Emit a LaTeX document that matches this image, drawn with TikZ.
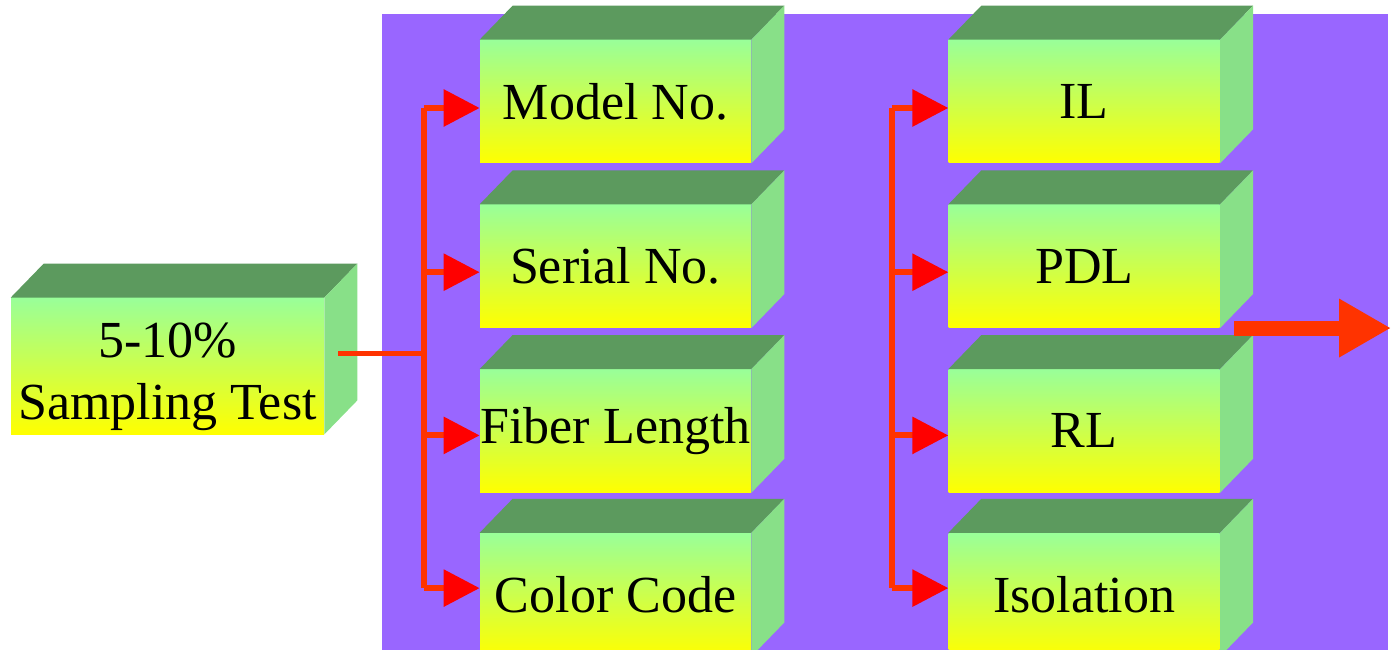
\documentclass[tikz,border=0pt]{standalone}
\usepackage{fontspec}
\setmainfont{Liberation Serif}
\usetikzlibrary{arrows.meta,positioning,calc}
\definecolor{bgpurple}{RGB}{153,102,255}
\definecolor{topgreen}{RGB}{92,154,94}
\definecolor{sidegreen}{RGB}{136,224,136}
\definecolor{frontgreen}{RGB}{153,255,153}
\definecolor{wire}{RGB}{255,51,0}
\tikzstyle{feed}=[wire, line width=0.12cm, -{Triangle[length=0.72cm,width=0.72cm,color=red]}]
\tikzstyle{bus}=[wire, line width=0.12cm]
\tikzset{
    block/.style={top color=frontgreen, bottom color=yellow, inner sep=0pt,
        minimum width=5.42cm, minimum height=2.46cm, align=center,
        font=\fontsize{29.6}{35.3}\selectfont},
    bigblock/.style={block, minimum width=6.26cm, minimum height=2.72cm}
}
% top and side faces of a block
\newcommand{\blockfaces}[1]{%
  \fill[topgreen] (#1.north west) -- ++(0.66,0.68) -- ($(#1.north east)+(0.66,0.68)$) -- (#1.north east) -- cycle;
  \fill[sidegreen] (#1.north east) -- ++(0.66,0.68) -- ($(#1.south east)+(0.66,0.68)$) -- (#1.south east) -- cycle;
}
\begin{document}
\begin{tikzpicture}
  \useasboundingbox (0,0) rectangle (27.84,-13);
  \fill[bgpurple] (7.64,-0.28) rectangle (27.76,-13);

  \node[bigblock] (samp) at (3.35,-7.32)
    {\raisebox{-0.2cm}[\height][\depth]{\begin{tabular}{@{}c@{}}5-10\%\\Sampling Test\end{tabular}}};

  \node[block] (model) at (12.31,-2.03) {Model No.};
  \node[block, below=0.82cm of model] (serial) {Serial No.};
  \node[block, below=0.82cm of serial] (fiber) {Fiber Length};
  \node[block, below=0.80cm of fiber] (color) {Color Code};

  \node[block, right=3.94cm of model] (il) {IL};
  \node[block, below=0.82cm of il] (pdl) {PDL};
  \node[block, below=0.82cm of pdl] (rl) {RL};
  \node[block, below=0.80cm of rl] (iso) {Isolation};

  \blockfaces{samp}
  \blockfaces{model} \blockfaces{serial} \blockfaces{fiber} \blockfaces{color}
  \blockfaces{il} \blockfaces{pdl} \blockfaces{rl} \blockfaces{iso}

  %%%%%%%% connectors %%%%%%%%
  \coordinate (mbus) at (8.47,0);
  \coordinate (rbus) at (17.83,0);
  \coordinate (sout) at ([xshift=0.28cm,yshift=0.26cm]samp.east);
  \coordinate (model_in) at ([yshift=-0.13cm]model.west);
  \coordinate (serial_in) at ([yshift=-0.12cm]serial.west);
  \coordinate (fiber_in) at ([yshift=-0.09cm]fiber.west);
  \coordinate (color_in) at ([yshift=0.13cm]color.west);
  \coordinate (il_in) at ([yshift=-0.13cm]il.west);
  \coordinate (pdl_in) at ([yshift=-0.12cm]pdl.west);
  \coordinate (rl_in) at ([yshift=-0.09cm]rl.west);
  \coordinate (iso_in) at ([yshift=0.13cm]iso.west);
  \coordinate (outstart) at ([xshift=0.28cm]pdl.south east);
  \coordinate (outtip) at (27.82,0 |- outstart);

  \draw[wire, line width=0.1cm] (sout) -- (mbus |- sout);
  \draw[bus] (mbus |- model_in) -- (mbus |- color_in);
  \draw[bus] (rbus |- il_in) -- (rbus |- iso_in);

  \draw[feed] (mbus |- model_in) -- (model_in);
  \draw[feed] (mbus |- serial_in) -- (serial_in);
  \draw[feed] (mbus |- fiber_in) -- (fiber_in);
  \draw[feed] (mbus |- color_in) -- (color_in);
  \draw[feed] (rbus |- il_in) -- (il_in);
  \draw[feed] (rbus |- pdl_in) -- (pdl_in);
  \draw[feed] (rbus |- rl_in) -- (rl_in);
  \draw[feed] (rbus |- iso_in) -- (iso_in);

  \draw[wire, line width=0.3cm, -{Triangle[length=1.04cm,width=1.1cm]}] (outstart) -- (outtip);
\end{tikzpicture}
\end{document}
